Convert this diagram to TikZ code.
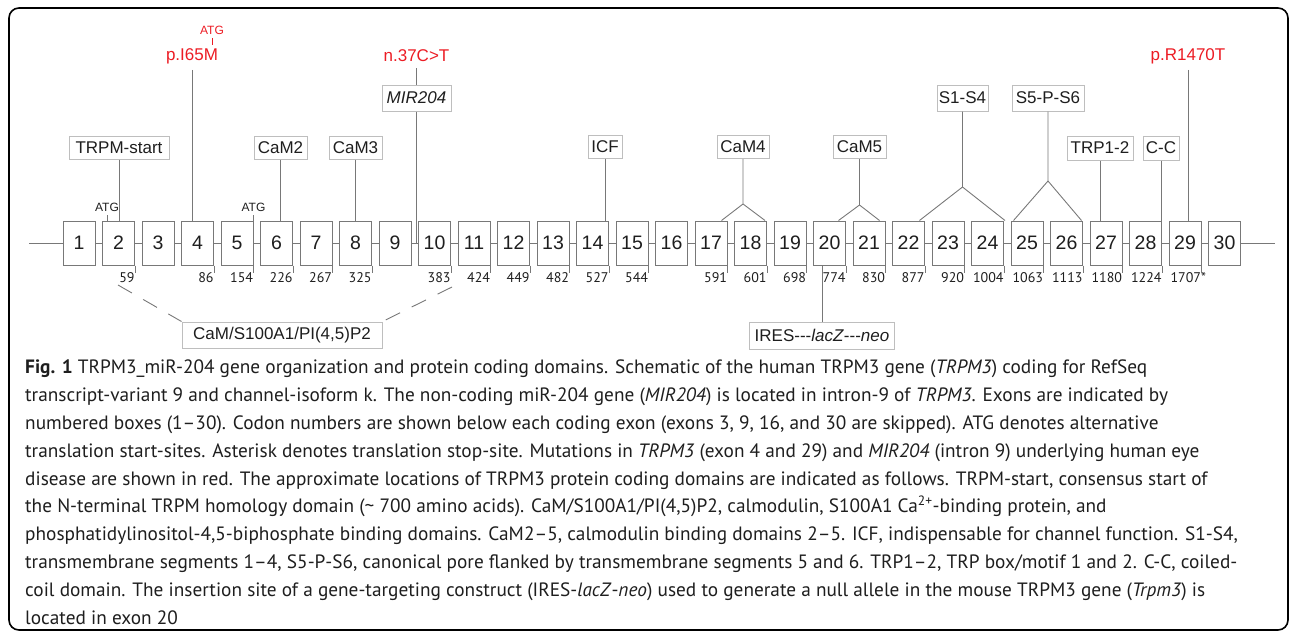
\documentclass[tikz,border=0pt]{standalone}
\usepackage{fontspec}
\setmainfont{Liberation Sans}
\newfontfamily\plainsans{Liberation Sans}
\newfontfamily\capfont{PT Sans}
\usetikzlibrary{positioning,calc}
\definecolor{exongray}{RGB}{120,120,120}
\definecolor{boxgray}{RGB}{190,190,190}
\definecolor{mutred}{RGB}{236,28,36}
\definecolor{txtdark}{RGB}{30,30,30}

\begin{document}
\begin{tikzpicture}[x=1pt, y=-1pt]
\tikzset{
  exon/.style={draw=exongray, line width=1pt, minimum width=32pt, minimum height=44pt, inner sep=0pt, font=\fontsize{19.5}{20}\selectfont, text=txtdark},
  dom/.style={draw=boxgray, line width=1pt, inner sep=0pt, minimum height=23pt, font=\fontsize{17}{18}\selectfont, text=txtdark},
  mut/.style={text=mutred, inner sep=0pt, font=\fontsize{17}{18}\selectfont},
  atg/.style={inner sep=0pt, font=\fontsize{12}{13}\selectfont, text=txtdark},
  codon/.style={inner sep=0pt, anchor=north east, font=\capfont\fontsize{14}{15}\selectfont, text=txtdark},
  link/.style={draw=exongray, line width=0.9pt},
  dashlink/.style={link, dash pattern=on 16pt off 13pt}
}
\useasboundingbox (0,0) rectangle (1290,632);
\draw[line width=1.6pt, rounded corners=10pt] (9,8) rectangle (1288,630);

% exons and introns
\foreach \i in {1,...,30}
  \node[exon] (e\i) at ({79+(\i-1)*39.5},243) {\i};
\coordinate (gs) at (29,243);
\coordinate (ge) at (1275,243);
\draw[link] (gs) -- (e1.west);
\foreach \i [evaluate=\i as \j using int(\i+1)] in {1,...,29}
  \draw[link] (e\i.east) -- (e\j.west);
\draw[link] (e30.east) -- (ge);

% codon numbers
\foreach \i/\n in {2/59,4/86,5/154,6/226,7/267,8/325,10/383,11/424,12/449,13/482,14/527,15/544,
  17/591,18/601,19/698,20/774,21/830,22/877,23/920,24/1004,25/1063,26/1113,27/1180,28/1224}
  \draw[link] (e\i.south east) -- ++(0,7) node[codon] {\n};
\draw[link] (e29.south east) -- ++(0,7) node[codon] {1707\rlap{*}};

% start sites
\draw[link] ([xshift=5pt]e2.north west) -- ++(0,-6) node[atg, above=2pt] {ATG};
\draw[link] (e5.north east) -- ++(0,-6) node[atg, above=2pt] {ATG};

% mutations
\node[mut] (m65) at (192,56) {p.I65M};
\node[atg, text=mutred] (atgm) at (212,30) {ATG};
\draw[mutred, line width=0.8pt] (atgm.south) ++(0,3.5) -- ++(0,7);
\draw[link] (m65.south) ++(0,6) -- (m65.south |- e4.north);
\node[mut] (m37) at (416.5,56) {n.37C>T};
\node[dom, minimum width=69pt, minimum height=26pt, font=\itshape\fontsize{17}{18}\selectfont] (mir) at (416.5,98) {MIR204};
\draw[link] (m37.south) ++(0,6) -- (mir.north);
\draw[link] (mir.south) -- (mir.south |- e9.east);
\node[mut] (m1470) at (1188,56) {p.R1470T};
\draw[link] (m1470.south) ++(0,6) -- (m1470.south |- e29.north);

% protein domains
\node[dom, minimum width=100pt] (trpm) at (119,147.5) {TRPM-start};
\draw[link] (trpm.south) -- (trpm.south |- e2.north);
\node[dom, minimum width=53pt] (cam2) at (280.5,147.5) {CaM2};
\draw[link] (cam2.south) -- (cam2.south |- e6.north);
\node[dom, minimum width=53pt] (cam3) at (355.5,147.5) {CaM3};
\draw[link] (cam3.south) -- (cam3.south |- e8.north);
\node[dom, minimum width=34pt] (icf) at (605,147) {ICF};
\draw[link] (icf.south) -- (icf.south |- e14.north);
\node[dom, minimum width=52pt] (cam4) at (743,147) {CaM4};
\coordinate (cam4b) at (743,204);
\draw[link] (cam4.south) -- (cam4b) -- ([xshift=-6pt]e17.north east);
\draw[link] (cam4b) -- ([xshift=-2pt]e18.north east);
\node[dom, minimum width=53pt] (cam5) at (859.5,147) {CaM5};
\coordinate (cam5b) at (859.5,205);
\draw[link] (cam5.south) -- (cam5b) -- ([xshift=-7.5pt]e20.north east);
\draw[link] (cam5b) -- ([xshift=-6pt]e21.north east);
\node[dom, minimum width=51pt, minimum height=26pt] (s14) at (962.5,98) {S1-S4};
\coordinate (s14b) at (962.5,187);
\draw[link] (s14.south) -- (s14b) -- ([xshift=-5.5pt]e22.north east);
\draw[link] (s14b) -- ([xshift=1pt]e24.north east);
\node[dom, minimum width=72pt, minimum height=26pt] (s56) at (1048,98) {S5-P-S6};
\coordinate (s56b) at (1048,181);
\draw[link] (s56.south) -- (s56b) -- ([xshift=3pt]e25.north west);
\draw[link] (s56b) -- ([xshift=-1.5pt]e26.north east);
\node[dom, minimum width=66pt, minimum height=24pt] (trp) at (1100,148) {TRP1-2};
\draw[link] (trp.south) -- (trp.south |- e27.north);
\node[dom, minimum width=36pt, minimum height=24pt] (cc) at (1161,148) {C-C};
\draw[link] (cc.south) -- (cc.south |- e28.north);

% bottom domains
\node[dom, minimum width=200pt, minimum height=26pt] (cams) at (282,335) {CaM/S100A1/PI(4,5)P2};
\coordinate (camsl) at (118,285);
\coordinate (camsr) at (452,287);
\draw[dashlink] (camsl) -- (cams.north west);
\draw[dashlink] (camsr) -- (cams.north east);
\node[dom, minimum width=145pt, minimum height=27pt, font=\plainsans\fontsize{17}{18}\selectfont] (ires) at (822,335.5) {IRES---\textit{lacZ}---\textit{neo}};
\draw[link] (ires.north) -- (ires.north |- e20.south);

% caption
\node[anchor=north west, align=left, inner sep=0pt, text=txtdark,
  font=\capfont\fontsize{19.3}{27.8}\selectfont] (cap) at (25,360) {%
\textbf{Fig. 1} TRPM3\_miR-204 gene organization and protein coding domains. Schematic of the human TRPM3 gene (\textit{TRPM3}) coding for RefSeq\\
transcript-variant 9 and channel-isoform k. The non-coding miR-204 gene (\textit{MIR204}) is located in intron-9 of \textit{TRPM3}. Exons are indicated by\\
numbered boxes (1–30). Codon numbers are shown below each coding exon (exons 3, 9, 16, and 30 are skipped). ATG denotes alternative\\
translation start-sites. Asterisk denotes translation stop-site. Mutations in \textit{TRPM3} (exon 4 and 29) and \textit{MIR204} (intron 9) underlying human eye\\
disease are shown in red. The approximate locations of TRPM3 protein coding domains are indicated as follows. TRPM-start, consensus start of\\
the N-terminal TRPM homology domain (\textasciitilde\ 700 amino acids). CaM/S100A1/PI(4,5)P2, calmodulin, S100A1 Ca\textsuperscript{2+}-binding protein, and\\
phosphatidylinositol-4,5-biphosphate binding domains. CaM2–5, calmodulin binding domains 2–5. ICF, indispensable for channel function. S1-S4,\\
transmembrane segments 1–4, S5-P-S6, canonical pore flanked by transmembrane segments 5 and 6. TRP1–2, TRP box/motif 1 and 2. C-C, coiled-\\
coil domain. The insertion site of a gene-targeting construct (IRES-\textit{lacZ}-\textit{neo}) used to generate a null allele in the mouse TRPM3 gene (\textit{Trpm3}) is\\
located in exon 20};
\end{tikzpicture}
\end{document}
